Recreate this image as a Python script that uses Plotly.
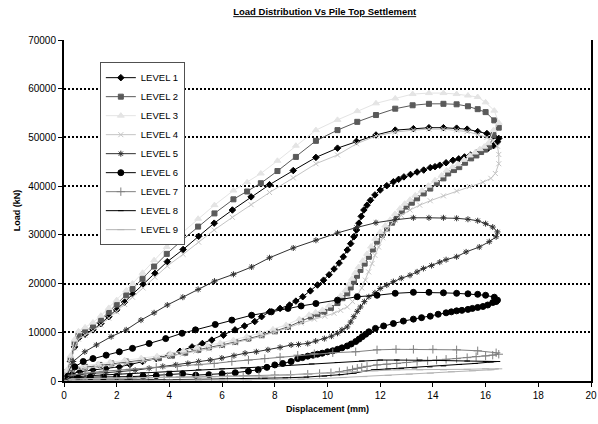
import plotly.graph_objects as go

LEVELS = ["LEVEL 1", "LEVEL 2", "LEVEL 3", "LEVEL 4", "LEVEL 5", "LEVEL 6", "LEVEL 7", "LEVEL 8", "LEVEL 9"]

# Level 1 (upper branch then unloading/lower branch)
X1_UP = [0, 0.1, 0.25, 0.4, 0.55, 0.8, 1.1, 1.4, 1.7, 2.0, 2.3, 2.6, 3.0, 3.45, 3.92, 4.52, 5.11, 5.7, 6.39, 7.1, 7.8, 8.7, 9.56, 10.38, 11.1, 11.84, 12.57, 13.26, 13.85, 14.4, 14.9, 15.3, 15.7, 16.05, 16.3, 16.5]
Y1_UP = [0, 1500, 4000, 7000, 8800, 9600, 10500, 11800, 13200, 14600, 16200, 17800, 19800, 22100, 24500, 27000, 29700, 32400, 35100, 37800, 40300, 43200, 45900, 47800, 49200, 50500, 51500, 51800, 52000, 52000, 51900, 51700, 51200, 50800, 50300, 49800]
X1_LO = [16.45, 16.3, 16.08, 15.85, 15.64, 15.42, 15.2, 14.98, 14.76, 14.5, 14.26, 14.08, 13.9, 13.65, 13.4, 13.15, 12.9, 12.7, 12.5, 12.25, 12.0, 11.8, 11.63, 11.5, 11.38, 11.28, 11.19, 11.1, 11.0, 10.88, 10.75, 10.6, 10.44, 10.25, 10.06, 9.85, 9.62, 9.35, 9.06, 8.8, 8.56, 8.2, 7.8, 7.5, 7.24, 6.85, 6.49, 6.05, 5.61, 5.25, 4.86, 4.4, 3.98, 3.5, 2.98, 2.5, 2.1, 1.6, 1.1, 0.6, 0.3, 0.1]
Y1_LO = [49100, 48300, 47700, 47200, 46800, 46400, 46000, 45600, 45300, 44800, 44300, 44000, 43800, 43300, 42900, 42400, 41900, 41400, 40900, 40100, 39200, 38200, 37100, 36100, 35100, 33800, 32400, 31000, 29600, 28200, 26900, 25500, 24200, 23000, 21800, 20700, 19700, 18500, 17300, 16400, 15600, 14900, 14200, 13200, 12200, 11300, 10500, 9400, 8400, 7700, 7000, 6100, 5300, 4600, 4000, 3400, 2900, 2600, 2300, 1900, 1500, 1000]

# Level 2
X2_UP = [0, 0.1, 0.25, 0.4, 0.55, 0.8, 1.1, 1.4, 1.7, 2.0, 2.36, 2.6, 2.98, 3.42, 3.9, 4.48, 5.09, 5.71, 6.43, 6.95, 7.47, 8.1, 8.8, 9.56, 10.38, 11.13, 11.84, 12.57, 13.23, 13.85, 14.4, 14.9, 15.33, 15.7, 16.0, 16.33, 16.5]
Y2_UP = [0, 1800, 4500, 7800, 9400, 10300, 11300, 12600, 14200, 15700, 17600, 18900, 21000, 23500, 26100, 28900, 31700, 34400, 37300, 38900, 40600, 43100, 46000, 49300, 51500, 53200, 54600, 55900, 56600, 56900, 56900, 56800, 56400, 55800, 55200, 53500, 52000]
X2_LO = [16.3, 16.14, 15.98, 15.83, 15.65, 15.45, 15.22, 15.0, 14.8, 14.58, 14.4, 14.15, 13.9, 13.65, 13.4, 13.2, 13.0, 12.82, 12.63, 12.45, 12.26, 12.07, 11.88, 11.72, 11.57, 11.41, 11.25, 11.12, 11.0, 10.88, 10.75, 10.57, 10.38, 10.13, 9.88, 9.62, 9.37, 9.0, 8.5, 8.0, 7.5, 7.0, 6.5, 6.0, 5.5, 5.1, 4.6, 4.1, 3.6, 3.0, 2.36, 1.8, 1.35, 0.8, 0.3, 0.1]
Y2_LO = [50500, 48100, 47500, 47000, 46300, 45700, 44800, 43900, 43300, 42600, 41600, 40600, 39500, 38500, 37500, 36600, 35800, 34800, 33700, 32500, 31300, 30000, 28600, 27000, 25500, 24100, 22800, 21600, 20400, 19200, 18000, 17000, 16000, 15000, 14200, 13700, 13200, 12300, 11100, 10200, 9400, 8700, 8000, 7400, 6900, 6400, 5800, 5200, 4700, 4300, 4000, 3600, 3300, 2900, 2500, 1500]

# Level 3
X3_UP = [0, 0.1, 0.25, 0.4, 0.55, 0.8, 1.1, 1.4, 1.7, 2.0, 2.36, 2.6, 2.98, 3.42, 3.9, 4.48, 5.09, 5.71, 6.43, 6.95, 7.47, 8.1, 8.8, 9.56, 10.38, 11.13, 11.84, 12.57, 13.23, 13.85, 14.4, 14.9, 15.33, 15.7, 16.0, 16.33, 16.5]
Y3_UP = [0, 2200, 5200, 8500, 10200, 11000, 12000, 13400, 15000, 16600, 18600, 20000, 22200, 24800, 27500, 30400, 33300, 36100, 39100, 40800, 42600, 45200, 48300, 51500, 53600, 55400, 57000, 58000, 58900, 59100, 59100, 58900, 58600, 58300, 57200, 55500, 53000]
X3_LO = [16.3, 16.1, 15.95, 15.78, 15.6, 15.4, 15.18, 14.95, 14.74, 14.52, 14.33, 14.08, 13.83, 13.58, 13.33, 13.13, 12.93, 12.75, 12.56, 12.38, 12.19, 12.0, 11.81, 11.65, 11.5, 11.34, 11.18, 11.05, 10.93, 10.81, 10.68, 10.5, 10.31, 10.06, 9.81, 9.55, 9.3, 8.93, 8.43, 7.93, 7.43, 6.93, 6.43, 5.93, 5.43, 5.03, 4.53, 4.03, 3.53, 2.93, 2.3, 1.75, 1.3, 0.75, 0.28, 0.1]
Y3_LO = [51500, 48800, 48100, 47600, 46900, 46300, 45400, 44500, 43900, 43200, 42200, 41200, 40100, 39100, 38100, 37200, 36400, 35400, 34300, 33100, 31900, 30600, 29200, 27600, 26100, 24700, 23400, 22200, 21000, 19800, 18600, 17500, 16500, 15500, 14600, 14100, 13600, 12700, 11500, 10600, 9800, 9100, 8400, 7800, 7300, 6800, 6200, 5600, 5100, 4700, 4300, 3900, 3500, 3100, 2700, 1600]

# Level 4
X4_UP = [0, 0.1, 0.25, 0.4, 0.55, 0.8, 1.1, 1.4, 1.7, 2.0, 2.3, 2.6, 3.0, 3.45, 3.92, 4.52, 5.11, 5.7, 6.39, 7.1, 7.8, 8.7, 9.56, 10.38, 11.1, 11.84, 12.57, 13.26, 13.85, 14.4, 14.9, 15.3, 15.7, 16.05, 16.3, 16.45]
Y4_UP = [0, 1400, 3800, 6800, 8600, 9400, 10300, 11500, 12900, 14200, 15700, 17200, 19100, 21300, 23600, 26000, 28500, 31000, 33600, 36200, 38700, 41700, 44600, 46400, 48700, 50300, 51100, 51500, 51700, 51700, 51500, 51200, 50600, 50000, 49200, 48200]
X4_LO = [16.5, 16.5, 16.37, 16.2, 15.9, 15.39, 14.9, 14.4, 13.9, 13.5, 13.13, 12.8, 12.5, 12.26, 12.1, 11.94, 11.8, 11.69, 11.56, 11.44, 11.3, 11.13, 10.95, 10.75, 10.5, 10.25, 9.9, 9.5, 9.0, 8.5, 8.0, 7.5, 7.0, 6.5, 6.0, 5.5, 5.0, 4.5, 4.0, 3.5, 3.0, 2.4, 1.8, 1.3, 0.8, 0.3, 0.1]
Y4_LO = [46500, 44600, 42600, 41600, 40800, 39900, 39000, 38000, 37000, 36100, 35100, 34000, 32700, 31000, 29400, 27500, 25800, 24100, 22400, 20700, 19100, 17600, 16300, 15200, 14500, 13900, 13300, 12700, 11900, 10900, 10000, 9200, 8500, 7800, 7200, 6600, 6100, 5500, 5000, 4500, 4100, 3700, 3300, 3000, 2600, 2200, 1400]

# Level 5
X5_UP = [0, 0.1, 0.35, 0.79, 1.23, 1.79, 2.36, 2.92, 3.42, 3.92, 4.51, 5.09, 5.71, 6.43, 7.12, 7.8, 8.7, 9.56, 10.38, 11.1, 11.84, 12.57, 13.26, 13.85, 14.4, 14.9, 15.33, 15.7, 16.0, 16.27, 16.45]
Y5_UP = [0, 1000, 4000, 6000, 7400, 9100, 10500, 12500, 14000, 15600, 17200, 18800, 20500, 21900, 23400, 25300, 27300, 28900, 30400, 31500, 32500, 33100, 33500, 33500, 33500, 33400, 33200, 32900, 32300, 31600, 30600]
X5_LO = [16.4, 16.14, 15.76, 15.26, 14.9, 14.5, 14.26, 13.95, 13.64, 13.4, 13.13, 12.8, 12.5, 12.25, 12.0, 11.8, 11.57, 11.4, 11.25, 11.13, 11.0, 10.88, 10.75, 10.55, 10.38, 10.15, 9.88, 9.55, 9.25, 8.9, 8.62, 8.2, 7.74, 7.3, 6.87, 6.45, 5.99, 5.55, 5.11, 4.7, 4.24, 3.75, 3.23, 2.7, 2.1, 1.6, 1.1, 0.6, 0.2]
Y5_LO = [29600, 28600, 27500, 26500, 25500, 24900, 24400, 23700, 23100, 22400, 21700, 21100, 20400, 19700, 19000, 18100, 17300, 16300, 15200, 14300, 13200, 12100, 11100, 10500, 9800, 9200, 8700, 8200, 7700, 7500, 7400, 6900, 6400, 6000, 5700, 5200, 4700, 4300, 4000, 3600, 3300, 3000, 2600, 2200, 1900, 1700, 1600, 1300, 900]

# Level 6
X6_UP = [0, 0.15, 0.41, 0.73, 1.1, 1.6, 2.1, 2.6, 3.23, 3.86, 4.48, 4.99, 5.74, 6.37, 7.12, 7.87, 8.5, 9.0, 9.56, 10.38, 11.13, 11.88, 12.57, 13.26, 13.85, 14.4, 14.9, 15.33, 15.7, 16.0, 16.33, 16.45]
Y6_UP = [0, 1000, 2900, 4000, 4600, 5300, 6000, 6700, 7700, 8700, 9800, 10500, 11600, 12500, 13500, 14200, 14900, 15400, 15900, 16600, 17300, 17600, 18000, 18200, 18200, 18100, 18000, 17900, 17800, 17600, 17200, 16600]
X6_LO = [16.4, 16.27, 16.08, 15.9, 15.7, 15.5, 15.33, 15.1, 14.9, 14.7, 14.5, 14.2, 13.9, 13.57, 13.26, 12.88, 12.5, 12.13, 11.82, 11.57, 11.45, 11.32, 11.2, 11.07, 10.9, 10.75, 10.55, 10.38, 10.2, 10.0, 9.8, 9.62, 9.45, 9.25, 9.05, 8.87, 8.62, 8.3, 8.0, 7.7, 7.37, 7.0, 6.5, 6.0, 5.5, 5.0, 4.5, 4.0, 3.5, 3.0, 2.5, 2.0, 1.5, 1.0, 0.5, 0.2]
Y6_LO = [16300, 16100, 15600, 15300, 15100, 14900, 14700, 14500, 14400, 14200, 14000, 13700, 13300, 13000, 12700, 12300, 11800, 11300, 10800, 10100, 9600, 9100, 8600, 8100, 7600, 7200, 6800, 6500, 6200, 6000, 5700, 5500, 5300, 5100, 4800, 4600, 4000, 3600, 3300, 2800, 2300, 2000, 1700, 1500, 1300, 1200, 1500, 1300, 1100, 1000, 900, 900, 800, 800, 700, 500]

# Level 7
X7_UP = [0, 0.3, 0.8, 1.5, 2.5, 3.5, 4.3, 5.11, 5.7, 6.37, 7.0, 7.62, 8.2, 8.87, 9.5, 10.2, 11.07, 11.88, 12.6, 13.26, 14.0, 14.9, 15.7, 16.4, 16.5]
Y7_UP = [0, 1200, 1600, 2000, 2400, 2800, 3000, 3300, 3600, 4000, 4300, 4600, 4900, 5300, 5600, 5800, 6000, 6400, 6500, 6500, 6500, 6400, 6200, 5800, 5500]
X7_LO = [16.27, 16.0, 15.64, 15.3, 14.9, 14.5, 14.14, 13.8, 13.4, 13.0, 12.63, 12.25, 11.88, 11.5, 11.3, 11.13, 10.95, 10.75, 10.45, 10.13, 9.7, 9.25, 8.6, 8.0, 7.4, 6.8, 6.2, 5.6, 5.0, 4.4, 3.8, 3.2, 2.6, 2.0, 1.4, 0.8, 0.3]
Y7_LO = [5300, 5150, 5000, 4800, 4600, 4450, 4300, 4150, 4000, 3800, 3600, 3450, 3300, 3000, 2800, 2600, 2350, 2100, 1900, 1700, 1550, 1400, 1300, 1200, 1100, 1000, 950, 900, 850, 800, 750, 700, 650, 600, 550, 500, 400]

# Level 8
X8_UP = [0, 0.3, 1.0, 2.0, 3.0, 4.0, 5.11, 6.0, 6.8, 7.62, 8.5, 9.4, 10.38, 11.3, 12.0, 12.63, 13.5, 14.4, 15.3, 16.0, 16.45]
Y8_UP = [0, 800, 1100, 1400, 1700, 2000, 2300, 2500, 2700, 2900, 3200, 3500, 3800, 4100, 4300, 4300, 4300, 4200, 4100, 4000, 4000]
X8_LO = [16.2, 15.6, 15.0, 14.4, 13.88, 13.3, 12.8, 12.3, 11.76, 11.4, 11.0, 10.5, 9.88, 9.2, 8.4, 7.62, 6.8, 6.0, 5.11, 4.2, 3.3, 2.4, 1.5, 0.6, 0.2]
Y8_LO = [3900, 3600, 3400, 3100, 2900, 2700, 2600, 2450, 2300, 2000, 1600, 1300, 1000, 800, 650, 550, 450, 400, 350, 300, 280, 250, 220, 200, 150]

# Level 9
X9_UP = [0, 0.3, 1.0, 2.0, 3.0, 4.0, 5.11, 6.0, 6.8, 7.62, 8.5, 9.3, 10.13, 11.0, 11.8, 12.63, 13.5, 14.4, 15.3, 16.0, 16.5]
Y9_UP = [0, 400, 500, 600, 700, 800, 850, 900, 950, 1000, 1200, 1400, 1600, 1900, 2100, 2300, 2300, 2300, 2400, 2500, 2500]
X9_LO = [16.2, 15.5, 14.7, 13.9, 13.1, 12.3, 11.38, 10.6, 9.8, 9.0, 8.0, 7.0, 6.0, 5.11, 4.0, 3.0, 2.0, 1.0, 0.3]
Y9_LO = [2300, 2100, 1900, 1600, 1400, 1150, 900, 700, 500, 400, 300, 250, 220, 200, 180, 150, 120, 100, 80]

X_TICKS = [0, 2, 4, 6, 8, 10, 12, 14, 16, 18, 20]
Y_TICKS = [0, 10000, 20000, 30000, 40000, 50000, 60000, 70000]

SERIES = [
    (X1_UP + X1_LO, Y1_UP + Y1_LO),
    (X2_UP + X2_LO, Y2_UP + Y2_LO),
    (X3_UP + X3_LO, Y3_UP + Y3_LO),
    (X4_UP + X4_LO, Y4_UP + Y4_LO),
    (X5_UP + X5_LO, Y5_UP + Y5_LO),
    (X6_UP + X6_LO, Y6_UP + Y6_LO),
    (X7_UP + X7_LO, Y7_UP + Y7_LO),
    (X8_UP + X8_LO, Y8_UP + Y8_LO),
    (X9_UP + X9_LO, Y9_UP + Y9_LO),
]

STYLES = [
    dict(color="#000000", symbol="diamond", size=5),
    dict(color="#5a5a5a", symbol="square", size=5),
    dict(color="#e4e4e4", symbol="triangle-up", size=6),
    dict(color="#c4c4c4", symbol="x-thin-open", size=5),
    dict(color="#303030", symbol="asterisk-open", size=5),
    dict(color="#000000", symbol="circle", size=6),
    dict(color="#808080", symbol="cross-thin-open", size=6),
    dict(color="#000000", symbol="line-ew-open", size=4),
    dict(color="#b4b4b4", symbol="line-ew-open", size=5),
]

FONT = "Liberation Sans, Arial, sans-serif"

fig = go.Figure()
for name, (xs, ys), st in zip(LEVELS, SERIES, STYLES):
    fig.add_trace(go.Scatter(
        x=xs, y=ys, name=name, mode="lines+markers",
        line=dict(color=st["color"], width=1),
        marker=dict(symbol=st["symbol"], size=st["size"], color=st["color"],
                    line=dict(color=st["color"], width=1)),
    ))

fig.update_layout(
    width=598, height=424,
    margin=dict(l=64, r=1, t=40, b=43),
    paper_bgcolor="white", plot_bgcolor="white",
    font=dict(family=FONT, size=10, color="#000000"),
    title=dict(text="<b><u>Load Distribution Vs Pile Top Settlement</u></b>",
               x=0.543, xref="container", xanchor="center",
               y=0.972, yref="container", yanchor="middle",
               font=dict(size=9.5, family=FONT, color="#000000")),
    showlegend=True,
    legend=dict(x=0.068, y=0.935, xanchor="left", yanchor="top",
                bgcolor="white", bordercolor="#505050", borderwidth=1,
                font=dict(size=9.5, family=FONT, color="#000000"),
                itemwidth=30, tracegroupgap=0),
    xaxis=dict(range=[0, 20], tickvals=X_TICKS, ticktext=[str(v) for v in X_TICKS],
               showgrid=False, zeroline=False, ticklabeloverflow="allow",
               showline=True, linecolor="#000000", linewidth=2, mirror=False,
               ticks="outside", ticklen=4, tickcolor="#000000",
               tickfont=dict(size=10, family=FONT, color="#000000"),
               title=dict(text="<b>Displacement (mm)</b>", standoff=6,
                          font=dict(size=9, family=FONT, color="#000000"))),
    yaxis=dict(range=[0, 70000], tickvals=Y_TICKS, ticktext=[str(v) for v in Y_TICKS],
               showgrid=True, gridcolor="#000000", gridwidth=2, griddash="2px,2px",
               zeroline=False,
               showline=True, linecolor="#000000", linewidth=2, mirror=True,
               ticks="outside", ticklen=4, tickcolor="#000000",
               tickfont=dict(size=10, family=FONT, color="#000000"),
               title=dict(text="<b>Load (kN)</b>", standoff=6,
                          font=dict(size=9, family=FONT, color="#000000"))),
)

fig.write_html("out.html")
